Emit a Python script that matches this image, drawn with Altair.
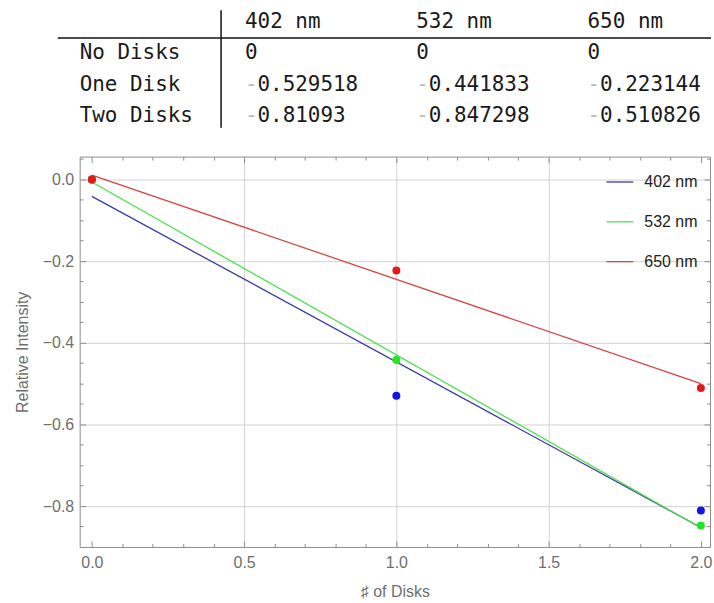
import altair as alt
import pandas as pd

# Measured relative intensities (log of I/I0) per wavelength and number of disks
wavelengths = ["402 nm", "532 nm", "650 nm"]
disk_counts = [0, 1, 2]
row_labels = ["No Disks", "One Disk", "Two Disks"]
rel_402 = [0, -0.529518, -0.81093]
rel_532 = [0, -0.441833, -0.847298]
rel_650 = [0, -0.223144, -0.510826]

series = {"402 nm": rel_402, "532 nm": rel_532, "650 nm": rel_650}

point_colors = ["#1414e6", "#22e622", "#e31a1a"]
line_colors = ["#3a3aa6", "#4fe04f", "#d64545"]

x_major = [0.0, 0.5, 1.0, 1.5, 2.0]
x_grid = [0.5, 1.0, 1.5]
x_minor = [round(k * 0.1, 2) for k in range(1, 21) if k % 5 != 0]
y_major = [-0.8, -0.6, -0.4, -0.2, 0.0]
y_minor = [round(k * 0.05, 2) for k in range(-17, 2) if k % 4 != 0]

df = pd.DataFrame(
    [
        {"wl": wl, "disks": d, "rel": v}
        for wl in wavelengths
        for d, v in zip(disk_counts, series[wl])
    ]
)

# ---------------- table ----------------
MONO = "DejaVu Sans Mono"
FS = 21
CHAR_W = 12.6
header_df = pd.DataFrame({"ci": [0, 1, 2], "ri": [0, 0, 0], "txt": wavelengths})
label_df = pd.DataFrame({"ri": [1, 2, 3], "txt": row_labels})
cells = []
for ci, wl in enumerate(wavelengths):
    for ri, v in enumerate(series[wl], start=1):
        cells.append(
            {
                "ci": ci,
                "ri": ri,
                "neg": "-" if v < 0 else "",
                "num": "0" if v == 0 else f"{abs(v):.6g}",
            }
        )
cell_df = pd.DataFrame(cells)
neg_df = cell_df[cell_df["neg"] != ""]
zero_df = cell_df[cell_df["neg"] == ""]

col_x = alt.X("ci:Q", scale=alt.Scale(domain=[0, 2], range=[166, 510]), axis=None)
row_y = alt.Y("ri:Q", scale=alt.Scale(domain=[0, 3], range=[26, 120]), axis=None)

txt_style = dict(font=MONO, fontSize=FS, align="left", baseline="alphabetic", color="#1a1a1a")

t_header = alt.Chart(header_df).mark_text(**txt_style).encode(x=col_x, y=row_y, text="txt:N")
t_labels = alt.Chart(label_df).mark_text(**txt_style).encode(
    x=alt.value(0), y=row_y, text="txt:N"
)
t_minus = alt.Chart(neg_df).mark_text(
    font=MONO, fontSize=FS, align="left", baseline="alphabetic", color="#b8b8b8"
).encode(x=col_x, y=row_y, text="neg:N")
t_neg_nums = alt.Chart(neg_df).mark_text(dx=CHAR_W, **txt_style).encode(
    x=col_x, y=row_y, text="num:N"
)
t_zero_nums = alt.Chart(zero_df).mark_text(**txt_style).encode(
    x=col_x, y=row_y, text="num:N"
)
one = pd.DataFrame({"k": [0]})
h_rule = alt.Chart(one).mark_rule(color="#111111", strokeWidth=1.5).encode(
    x=alt.value(-22), x2=alt.value(634), y=alt.value(36)
)
v_rule = alt.Chart(one).mark_rule(color="#111111", strokeWidth=1.5).encode(
    x=alt.value(142), y=alt.value(8), y2=alt.value(126)
)

table = alt.layer(h_rule, v_rule, t_header, t_labels, t_minus, t_neg_nums, t_zero_nums).properties(
    width=633, height=130, view=alt.ViewBackground(stroke="transparent")
)

# ---------------- plot ----------------
SANS = "Liberation Sans"
GRAY_TXT = "#6e6e6e"
TICK = "#8c8c8c"
FONT_PLOT = 16

xs = alt.Scale(domain=[-0.04, 2.03], nice=False, zero=False)
ys = alt.Scale(domain=[-0.9, 0.056], nice=False, zero=False)


def tick_axis(orient, values, size):
    return alt.Axis(
        orient=orient, values=values, tickSize=size, offset=-size, labels=False,
        domain=False, grid=False, title=None, ticks=True, tickColor=TICK, tickWidth=1,
    )


def blank_axis(orient):
    return alt.Axis(orient=orient, values=[0], labels=False, domain=False, grid=False,
                    ticks=False, title=None)


base = alt.Chart(df)


def axis_layer(xaxis, yaxis):
    return base.mark_point(opacity=0).encode(
        x=alt.X("disks:Q", scale=xs, axis=xaxis),
        y=alt.Y("rel:Q", scale=ys, axis=yaxis),
    )


main_axes = axis_layer(
    alt.Axis(
        orient="bottom", values=x_major, format=".1f", labelFont=SANS, labelFontSize=FONT_PLOT,
        labelColor=GRAY_TXT, labelPadding=8, ticks=False, domain=False, grid=False,
        title="\u266f of Disks", titleFont=SANS, titleFontSize=FONT_PLOT, titleColor=GRAY_TXT,
        titleFontWeight="normal", titlePadding=13,
    ),
    alt.Axis(
        orient="left", values=y_major, format=".1f", labelFont=SANS, labelFontSize=FONT_PLOT,
        labelColor=GRAY_TXT, labelPadding=6, ticks=False, domain=False, grid=True,
        gridColor="#d2d2d2", gridWidth=1,
        title="Relative Intensity", titleFont=SANS, titleFontSize=FONT_PLOT, titleColor=GRAY_TXT,
        titleFontWeight="normal", titlePadding=12,
    ),
)
grid_x = axis_layer(
    alt.Axis(orient="bottom", values=x_grid, labels=False, domain=False, ticks=False,
             grid=True, gridColor="#d2d2d2", gridWidth=1, title=None),
    tick_axis("left", y_major, 6),
)
ticks_a = axis_layer(tick_axis("bottom", x_major, 6), tick_axis("left", y_minor, 3.5))
ticks_b = axis_layer(tick_axis("bottom", x_minor, 3.5), tick_axis("right", y_major, 6))
ticks_c = axis_layer(tick_axis("top", x_major, 6), tick_axis("right", y_minor, 3.5))
ticks_d = axis_layer(tick_axis("top", x_minor, 3.5), blank_axis("right"))

fit_lines = base.transform_regression(
    "disks", "rel", groupby=["wl"], extent=[0, 2], method="linear"
).mark_line(strokeWidth=1.3).encode(
    x=alt.X("disks:Q", scale=xs, axis=None),
    y=alt.Y("rel:Q", scale=ys, axis=None),
    color=alt.Color(
        "wl:N",
        scale=alt.Scale(domain=wavelengths, range=line_colors),
        legend=alt.Legend(
            orient="none", legendX=528, legendY=11, title=None, symbolType="stroke",
            symbolSize=729, symbolStrokeWidth=1.3, rowPadding=17, labelFont=SANS,
            labelFontSize=FONT_PLOT, labelColor="#222222", labelOffset=10, padding=0,
        ),
    ),
)

points = base.mark_circle(size=64, opacity=1).encode(
    x=alt.X("disks:Q", scale=xs, axis=None),
    y=alt.Y("rel:Q", scale=ys, axis=None),
    color=alt.Color("wl:N", scale=alt.Scale(domain=wavelengths, range=point_colors), legend=None),
)

plot = (
    alt.layer(main_axes, grid_x, ticks_a, ticks_b, ticks_c, ticks_d, fit_lines, points)
    .resolve_scale(color="independent")
    .resolve_axis(x="independent", y="independent")
    .properties(width=633, height=392,
                view=alt.ViewBackground(stroke="#8c8c8c", strokeWidth=1))
)

chart = alt.vconcat(table, plot, spacing=23).properties(
    padding={"left": 13, "top": 0, "right": 1, "bottom": 0},
    background="white",
)

chart.save("out.html", embed_options={"renderer": "svg", "actions": False})
